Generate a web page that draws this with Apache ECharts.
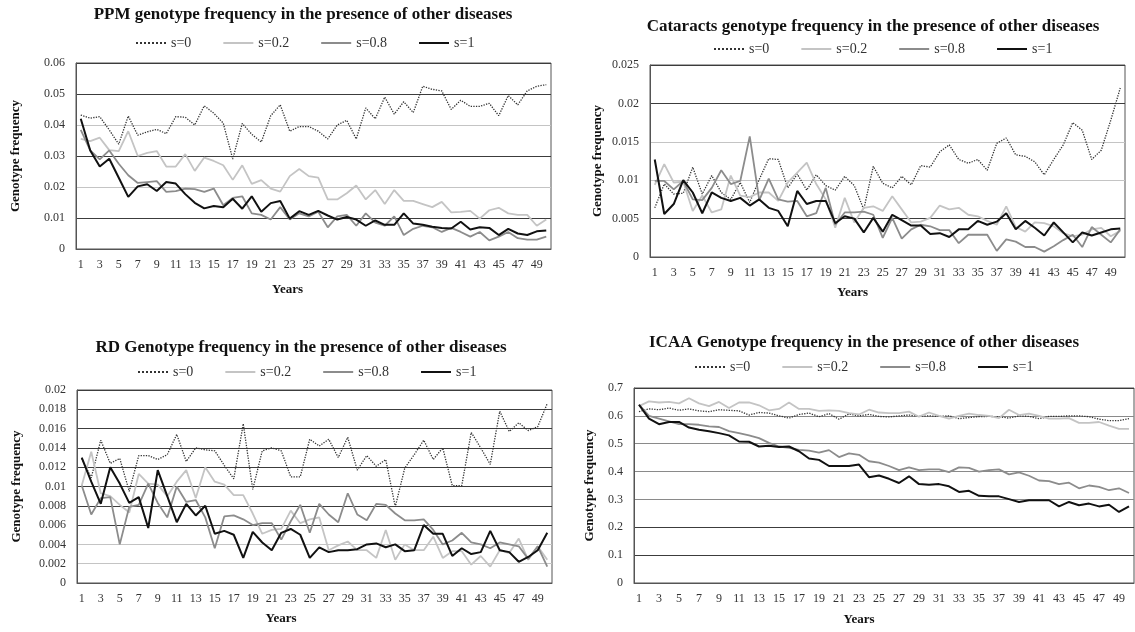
<!DOCTYPE html>
<html>
<head>
<meta charset="utf-8">
<script src="https://cdn.jsdelivr.net/npm/echarts@6/dist/echarts.min.js"></script>
<style>html,body{margin:0;padding:0;background:#fff;}#c{width:1135px;height:632px;}</style>
</head>
<body>
<div id="c"></div>
<script>
// ---------- DATA ----------
const years = Array.from({length: 50}, (_, i) => String(i + 1));
const seriesNames = ['s=0', 's=0.2', 's=0.8', 's=1'];
const titles = [
  'PPM genotype frequency in the presence of other diseases',
  'Cataracts genotype frequency in the presence of other diseases',
  'RD Genotype frequency in the presence of other diseases',
  'ICAA Genotype frequency in the presence of other diseases'
];
const yAxisName = 'Genotype frequency';
const xAxisName = 'Years';

const ppm_s0 = [0.0432,0.0422,0.0427,0.0384,0.0338,0.0429,0.0367,0.0378,0.0386,0.0372,
0.0427,0.0425,0.040,0.0462,0.0438,0.0406,0.029,0.0405,0.037,0.0345,
0.043,0.0465,0.038,0.0395,0.0395,0.038,0.0355,0.040,0.0415,0.0355,
0.0455,0.042,0.049,0.0435,0.0475,0.044,0.0525,0.0515,0.051,0.045,
0.048,0.046,0.046,0.047,0.043,0.0495,0.0465,0.051,0.0525,0.053];
const ppm_s02 = [0.0355,0.0348,0.0359,0.0319,0.0316,0.038,0.030,0.031,0.0316,0.0266,
0.0266,0.0306,0.0252,0.0295,0.0284,0.027,0.0223,0.027,0.021,0.0222,
0.0195,0.0185,0.0235,0.0258,0.0235,0.023,0.016,0.016,0.018,0.0205,
0.016,0.019,0.0145,0.019,0.0155,0.0155,0.0145,0.0135,0.0152,0.0118,
0.012,0.0123,0.0098,0.0125,0.0133,0.0115,0.011,0.011,0.0075,0.0095];
const ppm_s08 = [0.0384,0.0318,0.0289,0.0318,0.0275,0.0238,0.0213,0.0216,0.0219,0.0184,
0.0187,0.0195,0.0193,0.0184,0.0195,0.0141,0.0165,0.017,0.0115,0.011,
0.0095,0.0135,0.0095,0.0115,0.0105,0.012,0.007,0.0105,0.011,0.0075,
0.0115,0.0085,0.0075,0.0105,0.0045,0.0065,0.0075,0.007,0.0055,0.0068,
0.0055,0.004,0.0055,0.0028,0.004,0.0055,0.0035,0.003,0.003,0.004];
const ppm_s1 = [0.042,0.0318,0.0266,0.0291,0.023,0.0168,0.0202,0.0209,0.0187,0.0216,
0.0211,0.0177,0.0149,0.0131,0.0139,0.0135,0.0162,0.013,0.017,0.012,
0.0148,0.0155,0.0098,0.0122,0.011,0.0123,0.0108,0.0095,0.0103,0.0095,
0.0075,0.0092,0.0078,0.0078,0.0115,0.0082,0.0078,0.0072,0.0068,0.0066,
0.0088,0.0063,0.007,0.0068,0.0045,0.0065,0.005,0.0045,0.0057,0.006];

const cat_s0 = [0.0064,0.0095,0.0082,0.0083,0.0117,0.0082,0.0106,0.0084,0.0075,0.0097,
0.0071,0.0101,0.0128,0.0127,0.009,0.0108,0.0087,0.0107,0.0093,0.0087,
0.0105,0.0093,0.0062,0.0118,0.0096,0.009,0.0105,0.0094,0.0119,0.0117,
0.0137,0.0146,0.0127,0.0122,0.0127,0.0113,0.0148,0.0155,0.0133,0.0131,
0.0124,0.0107,0.0127,0.0146,0.0175,0.0165,0.0127,0.0139,0.0178,0.022];
const cat_s02 = [0.0094,0.0121,0.0097,0.0098,0.006,0.008,0.0058,0.0062,0.0106,0.008,
0.0078,0.0084,0.0084,0.0073,0.0097,0.011,0.0123,0.0095,0.0075,0.0038,
0.0077,0.0045,0.0064,0.0066,0.006,0.0079,0.0062,0.0045,0.0046,0.0051,
0.0067,0.0062,0.0064,0.0055,0.0053,0.0047,0.0042,0.0066,0.0039,0.0033,
0.0045,0.0044,0.004,0.0031,0.0027,0.0029,0.0036,0.0038,0.0027,0.0034];
const cat_s08 = [0.0099,0.0099,0.0088,0.0099,0.0075,0.0074,0.009,0.0113,0.0095,0.0099,
0.0157,0.0074,0.0102,0.0075,0.0072,0.0073,0.0053,0.0057,0.009,0.0042,
0.0058,0.0058,0.0059,0.0055,0.0025,0.0051,0.0024,0.0036,0.0042,0.004,
0.0035,0.0035,0.0018,0.0029,0.0029,0.0029,0.0008,0.0023,0.002,0.0013,
0.0013,0.0007,0.0014,0.0022,0.0029,0.0013,0.0039,0.0029,0.0019,0.0036];
const cat_s1 = [0.0127,0.0056,0.0069,0.010,0.0084,0.0057,0.0084,0.0077,0.0073,0.0077,
0.0067,0.0075,0.0064,0.006,0.004,0.0086,0.0069,0.0073,0.0073,0.0044,
0.0053,0.005,0.0032,0.0051,0.0033,0.0055,0.0048,0.0041,0.0041,0.003,
0.0031,0.0026,0.0036,0.0036,0.0047,0.0042,0.0046,0.0057,0.0036,0.0047,
0.0038,0.0028,0.0045,0.0032,0.0019,0.0032,0.0028,0.0032,0.0036,0.0037];

const rd_s0 = [0.0129,0.0109,0.0148,0.0124,0.0129,0.0095,0.0132,0.0132,0.0128,0.0133,
0.0154,0.0126,0.014,0.0138,0.0137,0.0122,0.0108,0.0165,0.0097,0.0137,
0.014,0.0137,0.011,0.011,0.0149,0.0142,0.0149,0.013,0.0151,0.0117,
0.0132,0.0121,0.0128,0.0079,0.0119,0.0133,0.0148,0.0128,0.014,0.0101,
0.0101,0.0156,0.014,0.0123,0.0178,0.0157,0.0166,0.0158,0.0162,0.0186];
const rd_s02 = [0.0101,0.0136,0.0093,0.009,0.0081,0.0073,0.0113,0.0103,0.0102,0.009,
0.0105,0.0117,0.0088,0.012,0.0105,0.0102,0.0091,0.0091,0.0072,0.0051,
0.0055,0.0056,0.0075,0.0062,0.0066,0.0068,0.0034,0.0039,0.0043,0.0034,
0.0034,0.0026,0.0055,0.0024,0.004,0.0034,0.0034,0.0048,0.0026,0.0033,
0.0033,0.0019,0.0028,0.0017,0.0034,0.0031,0.0046,0.0024,0.0038,0.0024];
const rd_s08 = [0.0101,0.0071,0.0088,0.0089,0.004,0.0079,0.0081,0.0103,0.0083,0.0068,
0.010,0.0084,0.0086,0.0068,0.0036,0.0069,0.007,0.0066,0.006,0.0062,
0.0062,0.0045,0.0064,0.0081,0.0052,0.0082,0.0071,0.0063,0.0093,0.0071,
0.0065,0.0082,0.0081,0.0072,0.0065,0.0065,0.0066,0.0055,0.004,0.0044,
0.0052,0.0042,0.004,0.0036,0.0042,0.004,0.0038,0.0025,0.0038,0.0017];
const rd_s1 = [0.013,0.0105,0.0082,0.012,0.0103,0.0083,0.0089,0.0057,0.0117,0.009,
0.0063,0.0082,0.007,0.008,0.0051,0.0054,0.005,0.0026,0.0053,0.0042,
0.0034,0.0052,0.0056,0.005,0.0026,0.0037,0.0032,0.0034,0.0034,0.0035,
0.004,0.0041,0.0037,0.004,0.0033,0.0034,0.006,0.0051,0.0051,0.0028,
0.0036,0.003,0.0032,0.0054,0.0034,0.0032,0.0022,0.0027,0.0034,0.0052];

const icaa_s0 = [0.615,0.625,0.622,0.628,0.62,0.625,0.618,0.615,0.622,0.62,
0.618,0.603,0.612,0.61,0.6,0.592,0.605,0.61,0.597,0.608,
0.588,0.607,0.6,0.605,0.598,0.596,0.6,0.603,0.598,0.6,
0.598,0.6,0.59,0.594,0.597,0.598,0.597,0.592,0.6,0.598,
0.59,0.598,0.598,0.6,0.6,0.597,0.588,0.583,0.583,0.59];
const icaa_s02 = [0.635,0.652,0.648,0.65,0.645,0.663,0.645,0.635,0.65,0.628,
0.648,0.648,0.638,0.62,0.625,0.648,0.625,0.625,0.618,0.62,
0.618,0.61,0.605,0.622,0.612,0.61,0.61,0.615,0.597,0.612,
0.6,0.59,0.6,0.608,0.603,0.6,0.592,0.622,0.603,0.608,
0.6,0.59,0.59,0.592,0.575,0.575,0.578,0.565,0.553,0.553];
const icaa_s08 = [0.64,0.6,0.59,0.58,0.57,0.57,0.568,0.562,0.56,0.545,
0.538,0.53,0.52,0.503,0.49,0.485,0.478,0.475,0.468,0.477,
0.452,0.465,0.46,0.437,0.432,0.42,0.405,0.415,0.405,0.408,
0.408,0.398,0.415,0.413,0.4,0.405,0.408,0.39,0.397,0.385,
0.368,0.366,0.355,0.36,0.34,0.35,0.345,0.333,0.34,0.323];
const icaa_s1 = [0.64,0.59,0.57,0.578,0.578,0.558,0.55,0.545,0.538,0.53,
0.508,0.507,0.49,0.493,0.488,0.49,0.473,0.447,0.442,0.42,
0.42,0.42,0.425,0.38,0.386,0.374,0.359,0.383,0.355,0.353,
0.355,0.347,0.327,0.331,0.313,0.311,0.311,0.301,0.291,0.297,
0.297,0.297,0.275,0.291,0.279,0.285,0.275,0.281,0.255,0.275];

const panelData = [
  [ppm_s0, ppm_s02, ppm_s08, ppm_s1],
  [cat_s0, cat_s02, cat_s08, cat_s1],
  [rd_s0, rd_s02, rd_s08, rd_s1],
  [icaa_s0, icaa_s02, icaa_s08, icaa_s1]
];
const yMax = [0.06, 0.025, 0.02, 0.7];
const yInterval = [0.01, 0.005, 0.002, 0.1];

// ---------- LAYOUT / STYLE ----------
const FONT = "'Liberation Serif', 'Times New Roman', serif";
const D = '#3c3c3c', L = '#c4c4c4', M = '#8a8a8a';
const layout = [
  {grid: {left: 76, top: 63, width: 475, height: 186}, title: [303, 6], legend: [135, 36], yGap: 54, xGap: 34, xPad: 52,
   split: [D, D, L, D, L, D, D]},
  {grid: {left: 650, top: 65, width: 475, height: 192}, title: [873, 18], legend: [713, 42], yGap: 46, xGap: 29, xPad: 70,
   split: [D, D, L, L, D, D]},
  {grid: {left: 77, top: 390, width: 475, height: 193}, title: [301, 339], legend: [137, 365], yGap: 54, xGap: 29, xPad: 67,
   split: [D, L, L, D, D, D, D, D, D, D, D]},
  {grid: {left: 634, top: 388, width: 500, height: 195}, title: [864, 334], legend: [694, 360], yGap: 38, xGap: 30, xPad: 50,
   split: [D, D, D, M, M, M, M, D]}
];
const seriesStyle = [
  {color: '#333333', lineStyle: {type: 'dotted', width: 1.3}},
  {color: '#c4c4c4', lineStyle: {type: 'solid', width: 1.8}},
  {color: '#8c8c8c', lineStyle: {type: 'solid', width: 1.8}},
  {color: '#111111', lineStyle: {type: 'solid', width: 2}}
];

const option = {
  animation: false,
  backgroundColor: '#ffffff',
  title: [], legend: [], grid: [], xAxis: [], yAxis: [], series: []
};

layout.forEach((p, i) => {
  option.title.push({
    text: titles[i], left: p.title[0], top: p.title[1], textAlign: 'center', padding: 0,
    textStyle: {fontFamily: FONT, fontWeight: 'bold', fontSize: 17, color: '#111'}
  });
  option.legend.push({
    data: seriesNames, left: p.legend[0], top: p.legend[1], padding: 0,
    itemGap: 31, itemWidth: 30, itemHeight: 14, selectedMode: false,
    itemStyle: {opacity: 0},
    textStyle: {fontFamily: FONT, fontSize: 14, color: '#333'}
  });
  option.grid.push(Object.assign({show: true, borderColor: '#555', borderWidth: 1, backgroundColor: 'transparent'}, p.grid));
  option.xAxis.push({
    type: 'category', gridIndex: i, data: years, boundaryGap: true,
    name: xAxisName, nameLocation: 'middle', nameGap: p.xGap,
    nameTextStyle: {fontFamily: FONT, fontWeight: 'bold', fontSize: 13, color: '#111', padding: [0, p.xPad, 0, 0]},
    axisLine: {lineStyle: {color: '#555', width: 1}},
    axisTick: {show: false},
    axisLabel: {interval: 1, margin: 10, fontFamily: FONT, fontSize: 12, color: '#333'},
    splitLine: {show: false}
  });
  option.yAxis.push({
    type: 'value', gridIndex: i, min: 0, max: yMax[i], interval: yInterval[i],
    name: yAxisName, nameLocation: 'middle', nameGap: p.yGap, nameRotate: 90,
    nameTextStyle: {fontFamily: FONT, fontWeight: 'bold', fontSize: 13, color: '#111'},
    axisLine: {show: true, lineStyle: {color: '#555', width: 1}},
    axisTick: {show: false},
    axisLabel: {margin: 11, fontFamily: FONT, fontSize: 12, color: '#333'},
    splitLine: {show: true, lineStyle: {color: p.split, width: 1}}
  });
  panelData[i].forEach((arr, k) => {
    option.series.push({
      type: 'line', name: seriesNames[k], xAxisIndex: i, yAxisIndex: i,
      data: arr, symbol: 'none', showSymbol: false, smooth: false,
      color: seriesStyle[k].color,
      lineStyle: Object.assign({color: seriesStyle[k].color}, seriesStyle[k].lineStyle),
      z: 2 + k
    });
  });
});

const chart = echarts.init(document.getElementById('c'), null, {renderer: 'canvas'});
chart.setOption(option);
</script>
</body>
</html>
